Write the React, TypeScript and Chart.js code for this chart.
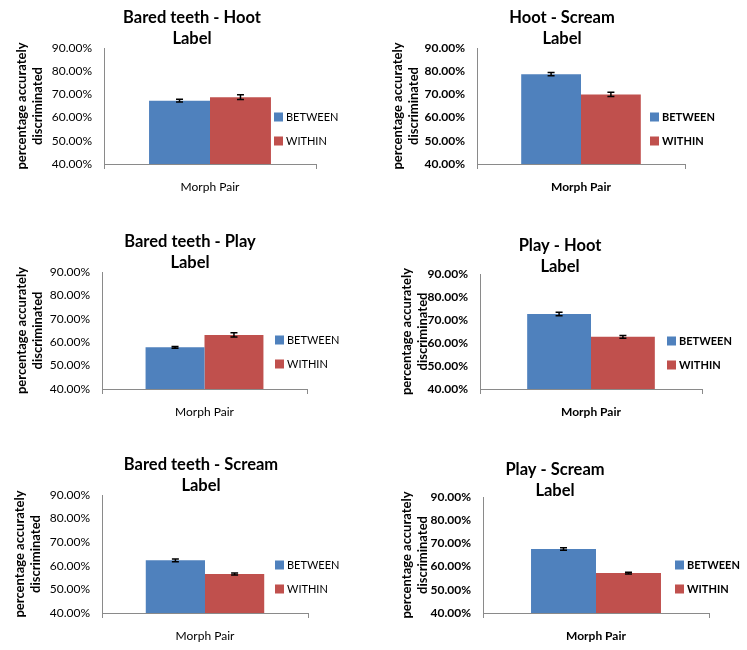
import React, { useEffect, useRef } from 'react';
import { Chart, registerables } from 'chart.js';

Chart.register(...registerables);

// ---------- data ----------
const pairTitles = [
  'Bared teeth - Hoot',
  'Hoot - Scream',
  'Bared teeth - Play',
  'Play - Hoot',
  'Bared teeth - Scream',
  'Play - Scream',
];
const titleSuffix = 'Label';
const categories = ['Morph Pair'];
const seriesNames = ['BETWEEN', 'WITHIN'];
const betweenValues = [67.3, 78.7, 57.8, 72.6, 62.3, 67.6];
const withinValues = [68.8, 70.0, 63.1, 62.7, 56.5, 57.2];
const betweenErrors = [0.6, 0.7, 0.4, 0.8, 0.6, 0.5];
const withinErrors = [1.0, 0.9, 0.9, 0.6, 0.4, 0.4];
const yMin = 40;
const yMax = 90;
const yStep = 10;
const yAxisTitle = ['percentage accurately', 'discriminated'];
const seriesColors = ['#4F81BD', '#C0504D'];

// ---------- layout (page pixel coordinates) ----------
type Panel = {
  cx: number; cy: number; cw: number; ch: number;
  area: [number, number, number, number]; // left, right, top, bottom
  titleCx: number; titleY1: number; yTitleX1: number;
  legX: number; legY: number; boldTicks: boolean;
};
const PANELS: Panel[] = [
  { cx: 0, cy: 0, cw: 370, ch: 212, area: [104, 316, 48, 164], titleCx: 192, titleY1: 18, yTitleX1: 22, legX: 274, legY: 117, boldTicks: false },
  { cx: 370, cy: 0, cw: 377, ch: 212, area: [477, 685, 48, 164], titleCx: 562, titleY1: 18, yTitleX1: 398, legX: 650, legY: 117, boldTicks: true },
  { cx: 0, cy: 212, cw: 370, ch: 220, area: [102, 307, 272, 389], titleCx: 190, titleY1: 242, yTitleX1: 22, legX: 275, legY: 340, boldTicks: false },
  { cx: 370, cy: 212, cw: 377, ch: 220, area: [480, 702, 274, 389], titleCx: 560, titleY1: 246, yTitleX1: 407, legX: 667, legY: 341, boldTicks: true },
  { cx: 0, cy: 432, cw: 370, ch: 218, area: [102, 308, 495, 613], titleCx: 201, titleY1: 465, yTitleX1: 20, legX: 275, legY: 565, boldTicks: false },
  { cx: 370, cy: 432, cw: 377, ch: 218, area: [483, 709, 497, 613], titleCx: 555, titleY1: 470, yTitleX1: 407, legX: 675, legY: 565, boldTicks: true },
];

const FONT = 'Lato, "Open Sans", "DejaVu Sans", sans-serif';
const TITLE_SIZE = 16.5;
const TITLE_LH_F = 1.28;
const YT_SIZE = 13;
const YT_LH_F = 1.22;
const X_AXIS_H = 34;
const AXIS_COLOR = '#8a8a8a';

const errorBarsPlugin = {
  id: 'errorBars',
  afterDatasetsDraw(chart: any, _args: any, opts: any) {
    const ctx = chart.ctx;
    const yScale = chart.scales.y;
    ctx.save();
    ctx.strokeStyle = '#000';
    ctx.lineWidth = 1.5;
    chart.data.datasets.forEach((ds: any, di: number) => {
      const meta = chart.getDatasetMeta(di);
      const errs = opts.errors[di];
      meta.data.forEach((el: any, j: number) => {
        const v = ds.data[j];
        const e = errs[j];
        const x = el.x;
        const yT = yScale.getPixelForValue(v + e);
        const yB = yScale.getPixelForValue(v - e);
        const cap = 3.5;
        ctx.beginPath();
        ctx.moveTo(x, yT);
        ctx.lineTo(x, yB);
        ctx.moveTo(x - cap, yT);
        ctx.lineTo(x + cap, yT);
        ctx.moveTo(x - cap, yB);
        ctx.lineTo(x + cap, yB);
        ctx.stroke();
      });
    });
    ctx.restore();
  },
};

const sideLegendPlugin = {
  id: 'sideLegend',
  afterDraw(chart: any, _args: any, opts: any) {
    const ctx = chart.ctx;
    ctx.save();
    ctx.font = `${opts.bold ? 'bold ' : ''}11px ${FONT}`;
    ctx.textBaseline = 'middle';
    ctx.textAlign = 'left';
    chart.data.datasets.forEach((ds: any, i: number) => {
      const y = opts.y + i * opts.gap;
      ctx.fillStyle = ds.backgroundColor;
      ctx.fillRect(opts.x, y - 4.5, 9, 9);
      ctx.fillStyle = '#000';
      ctx.fillText(ds.label, opts.x + 12, y + 0.5);
    });
    ctx.restore();
  },
};

function buildConfig(i: number, p: Panel): any {
  const W = p.cw;
  const areaL = p.area[0] - p.cx;
  const areaR = p.area[1] - p.cx;
  const areaT = p.area[2] - p.cy;
  const areaB = p.area[3] - p.cy;
  const tcx = p.titleCx - p.cx;
  // title spans padL .. W - padR, centred at tcx
  const padL = Math.max(0, 2 * tcx - W);
  const padR = W - (2 * tcx - padL);
  const rightW = W - padR - areaR; // spacer box on the right
  const padB = p.ch - areaB - X_AXIS_H;
  const titleLH = TITLE_SIZE * TITLE_LH_F;
  const tTop = p.titleY1 - p.cy - titleLH / 2;
  const tBot = areaT - tTop - 2 * titleLH;
  const yw = areaL - padL;
  const ytLH = YT_SIZE * YT_LH_F;
  const ytPad = p.yTitleX1 - p.cx - padL - ytLH / 2;

  return {
    type: 'bar',
    data: {
      labels: categories,
      datasets: [
        { label: seriesNames[0], data: [betweenValues[i]], backgroundColor: seriesColors[0], borderWidth: 0 },
        { label: seriesNames[1], data: [withinValues[i]], backgroundColor: seriesColors[1], borderWidth: 0 },
      ],
    },
    options: {
      responsive: false,
      animation: false,
      devicePixelRatio: 1,
      layout: { padding: { left: padL, right: padR, top: 0, bottom: padB } },
      datasets: { bar: { categoryPercentage: 0.575, barPercentage: 1.0 } },
      plugins: {
        legend: { display: false },
        tooltip: { enabled: false },
        title: {
          display: true,
          text: [pairTitles[i], titleSuffix],
          color: '#000',
          font: { family: FONT, size: TITLE_SIZE, weight: 'bold', lineHeight: TITLE_LH_F },
          padding: { top: tTop, bottom: tBot },
        },
        errorBars: { errors: [[betweenErrors[i]], [withinErrors[i]]] },
        sideLegend: { x: p.legX - p.cx, y: p.legY - p.cy, gap: 24, bold: p.boldTicks },
      },
      scales: {
        x: {
          type: 'category',
          offset: true,
          grid: { display: true, drawOnChartArea: false, drawTicks: true, tickLength: 5, color: AXIS_COLOR, offset: true },
          border: { display: true, color: AXIS_COLOR, width: 1 },
          ticks: { color: '#000', font: { family: FONT, size: 12, weight: p.boldTicks ? 'bold' : 'normal' }, padding: 11 },
          afterFit: (s: any) => { s.height = X_AXIS_H; },
        },
        y: {
          min: yMin,
          max: yMax,
          grid: { display: false, drawTicks: false },
          border: { display: true, color: AXIS_COLOR, width: 1 },
          ticks: {
            stepSize: yStep,
            color: '#000',
            padding: 12,
            font: { family: FONT, size: 12, weight: p.boldTicks ? 'bold' : 'normal' },
            callback: (v: any) => Number(v).toFixed(2) + '%',
          },
          title: {
            display: true,
            text: yAxisTitle,
            color: '#000',
            font: { family: FONT, size: YT_SIZE, weight: 'bold', lineHeight: YT_LH_F },
            padding: { top: ytPad, bottom: 0 },
          },
          afterFit: (s: any) => { s.width = yw; },
        },
        spacer: {
          type: 'linear',
          position: 'right',
          display: true,
          grid: { display: false, drawTicks: false },
          border: { display: false },
          ticks: { display: false },
          afterFit: (s: any) => { s.width = rightW; },
        },
      },
    },
    plugins: [errorBarsPlugin, sideLegendPlugin],
  };
}

function ChartPanel({ index, panel }: { index: number; panel: Panel }) {
  const ref = useRef<HTMLCanvasElement | null>(null);
  useEffect(() => {
    if (!ref.current) return;
    const chart = new Chart(ref.current, buildConfig(index, panel));
    return () => chart.destroy();
  }, [index, panel]);
  return (
    <canvas
      ref={ref}
      width={panel.cw}
      height={panel.ch}
      style={{ position: 'absolute', left: panel.cx, top: panel.cy, width: panel.cw, height: panel.ch }}
    />
  );
}

export default function App() {
  return (
    <div style={{ position: 'absolute', left: 0, top: 0, width: 747, height: 650, background: '#fff', overflow: 'hidden' }}>
      {PANELS.map((p, i) => (
        <ChartPanel key={i} index={i} panel={p} />
      ))}
    </div>
  );
}
